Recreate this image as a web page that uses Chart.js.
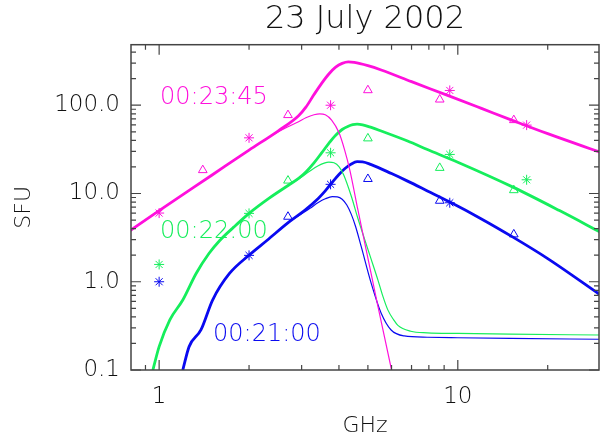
<!DOCTYPE html>
<html>
<head>
<meta charset="utf-8">
<script src="https://cdn.jsdelivr.net/npm/chart.js@4"></script>
<style>
  body { margin: 0; background: #fff; }
</style>
</head>
<body>
<canvas id="spectrumChart" width="605" height="437"></canvas>
<script>
// tick labels
const xTickValues = [1, 10];
const yTickValues = [0.1, 1, 10, 100];

// measured fluxes (asterisks and triangles)
const freqStar = [1.0, 2.0, 3.75, 9.4, 17.0];
const magentaStar = [6.0, 42.7, 100, 147, 59.5];
const greenStar = [1.57, 5.95, 28.9, 27.7, 14.3];
const blueStar = [1.0, 1.99, 12.7, 7.85, null];

const freqTri = [1.4, 2.7, 5.0, 8.7, 15.4];
const magentaTri = [18.4, 77.3, 148, 116, 67.8];
const greenTri = [null, 14.0, 42.1, 19.5, 10.9];
const blueTri = [null, 5.45, 14.6, 8.27, 3.44];

// 00:23:45 fit (thick) and model (thin)
const magentaFitFreq = [0.8, 1.0, 1.5, 2.0, 2.5, 2.93, 3.1, 3.3, 3.5, 3.7, 3.9, 4.1, 4.3, 4.5, 5.0, 5.54, 7.0, 9.2, 12, 15.3, 20, 30];
const magentaFit = [3.8, 6.4, 16.1, 31, 51, 76, 95, 132, 177, 226, 270, 298, 310, 306, 281, 251, 185, 130, 92, 67, 47.6, 29.3];
const magentaModelFreq = [0.8, 1.0, 1.5, 2.0, 2.4, 2.7, 2.93, 3.1, 3.3, 3.45, 3.6, 3.78, 4.0, 4.18, 4.35, 4.63, 5.0, 5.4, 6.0, 6.3];
const magentaModel = [3.8, 6.4, 16.1, 31, 46, 57, 65, 72, 78, 80, 78, 68, 49, 31, 18.4, 6.5, 1.85, 0.53, 0.1, 0.045];

// 00:22:00
const greenFitFreq = [0.953, 1.0, 1.086, 1.2, 1.33, 1.47, 1.59, 1.81, 2.0, 2.33, 2.71, 2.93, 3.1, 3.3, 3.5, 3.7, 3.9, 4.1, 4.3, 4.45, 4.6, 4.8, 5.13, 5.54, 6.79, 7.91, 10, 15.3, 21.9, 30];
const greenFit = [0.1, 0.184, 0.37, 0.62, 1.24, 2.1, 2.9, 4.39, 5.95, 8.8, 12.4, 14.8, 17.5, 22.2, 28.8, 37, 45.7, 53.1, 57.9, 60.2, 61, 60, 56, 51, 39.3, 31.5, 22.6, 11.8, 6.4, 3.65];
const greenModelFreq = [0.953, 1.0, 1.086, 1.2, 1.33, 1.47, 1.59, 1.81, 2.0, 2.33, 2.71, 2.93, 3.2, 3.41, 3.55, 3.7, 3.85, 4.0, 4.15, 4.4, 4.63, 4.88, 5.1, 5.4, 5.6, 5.83, 6.1, 6.3, 6.96, 7.91, 10, 15, 30];
const greenModel = [0.1, 0.184, 0.37, 0.62, 1.24, 2.1, 2.9, 4.39, 5.95, 8.8, 12.4, 14.6, 18.0, 20.6, 21.9, 22.7, 22.3, 20.2, 16.2, 9.3, 5.2, 3.0, 1.9, 1.05, 0.7, 0.48, 0.37, 0.32, 0.275, 0.264, 0.26, 0.255, 0.249];

// 00:21:00
const blueFitFreq = [1.2, 1.26, 1.38, 1.51, 1.72, 2.0, 2.3, 2.71, 3.08, 3.41, 3.6, 3.8, 4.0, 4.2, 4.4, 4.6, 4.8, 5.13, 6.0, 6.79, 7.91, 9.34, 12, 15.3, 20, 30];
const blueFit = [0.1, 0.184, 0.284, 0.62, 1.24, 2.0, 2.95, 4.7, 6.5, 8.8, 10.7, 13.4, 16.4, 19.3, 21.6, 22.9, 22.8, 21.2, 16.8, 13.8, 10.7, 8.1, 5.15, 3.2, 1.83, 0.71];
const blueModelFreq = [1.2, 1.26, 1.38, 1.51, 1.72, 2.0, 2.3, 2.71, 2.93, 3.2, 3.41, 3.6, 3.8, 3.95, 4.1, 4.25, 4.4, 4.55, 4.75, 5.13, 5.54, 5.98, 6.62, 7.91, 10, 15, 30];
const blueModel = [0.1, 0.184, 0.284, 0.62, 1.24, 2.0, 2.95, 4.7, 5.6, 6.8, 7.9, 8.7, 9.2, 9.15, 8.6, 7.4, 5.8, 4.2, 2.5, 0.96, 0.44, 0.284, 0.243, 0.235, 0.232, 0.228, 0.223];

const MAGENTA = '#ff10dc';
const GREEN = '#16ee5c';
const BLUE = '#0a0af0';
const INK = '#111';
const FONT = '"DejaVu Sans", sans-serif';

const pts = (xs, ys) => xs.map((x, i) => ({ x: x, y: ys[i] })).filter(p => p.y !== null);

function curve(xs, ys, color, width) {
    return {
        data: pts(xs, ys),
        borderColor: color,
        borderWidth: width,
        pointRadius: 0,
        cubicInterpolationMode: 'monotone',
        clip: 0
    };
}

function markers(xs, ys, color, style) {
    return {
        data: pts(xs, ys),
        showLine: false,
        pointStyle: style,
        pointRadius: 5,
        borderWidth: 1,
        borderColor: color,
        backgroundColor: 'transparent'
    };
}

// box with inward ticks on all four sides, title over the plot, time labels
const frame = {
    id: 'frame',
    afterDatasetsDraw(chart) {
        const { ctx, chartArea: a, scales: { x, y } } = chart;
        ctx.save();
        ctx.strokeStyle = '#444';
        ctx.lineWidth = 1.5;
        ctx.strokeRect(a.left, a.top, a.width, a.height);
        ctx.lineWidth = 1.2;
        ctx.beginPath();
        for (let d = -1; d <= 2; d++) {
            for (let m = 1; m <= 9; m++) {
                const v = m * Math.pow(10, d);
                if (v < x.min || v > x.max) continue;
                const px = x.getPixelForValue(v);
                const len = m === 1 ? 10 : 5;
                ctx.moveTo(px, a.bottom); ctx.lineTo(px, a.bottom - len);
                ctx.moveTo(px, a.top); ctx.lineTo(px, a.top + len);
            }
        }
        for (let d = -1; d <= 3; d++) {
            for (let m = 1; m <= 9; m++) {
                const v = m * Math.pow(10, d);
                if (v < y.min || v > y.max) continue;
                const py = y.getPixelForValue(v);
                const len = m === 1 ? 10 : 5;
                ctx.moveTo(a.left, py); ctx.lineTo(a.left + len, py);
                ctx.moveTo(a.right, py); ctx.lineTo(a.right - len, py);
            }
        }
        ctx.stroke();

        ctx.textBaseline = 'middle';
        ctx.textAlign = 'center';
        ctx.fillStyle = INK;
        ctx.font = '200 32px ' + FONT;
        ctx.fillText('23 July 2002', (a.left + a.right) / 2, 20);

        ctx.font = '200 24px ' + FONT;
        ctx.textAlign = 'left';
        ctx.fillStyle = MAGENTA;
        ctx.fillText('00:23:45', 160, 98);
        ctx.fillStyle = GREEN;
        ctx.fillText('00:22:00', 160, 232);
        ctx.fillStyle = BLUE;
        ctx.fillText('00:21:00', 213, 335);
        ctx.restore();
    }
};

new Chart(document.getElementById('spectrumChart').getContext('2d'), {
    type: 'line',
    data: {
        datasets: [
            curve(magentaModelFreq, magentaModel, MAGENTA, 1.2),
            curve(greenModelFreq, greenModel, GREEN, 1.2),
            curve(blueModelFreq, blueModel, BLUE, 1.2),
            curve(magentaFitFreq, magentaFit, MAGENTA, 2.8),
            curve(greenFitFreq, greenFit, GREEN, 2.8),
            curve(blueFitFreq, blueFit, BLUE, 2.8),
            markers(freqStar, magentaStar, MAGENTA, 'star'),
            markers(freqStar, greenStar, GREEN, 'star'),
            markers(freqStar, blueStar, BLUE, 'star'),
            markers(freqTri, magentaTri, MAGENTA, 'triangle'),
            markers(freqTri, greenTri, GREEN, 'triangle'),
            markers(freqTri, blueTri, BLUE, 'triangle')
        ]
    },
    options: {
        responsive: false,
        animation: false,
        layout: { padding: { right: 2, left: 0, top: 44.7, bottom: 0 } },
        plugins: {
            legend: { display: false },
            tooltip: { enabled: false },
            title: { display: false }
        },
        scales: {
            x: {
                type: 'logarithmic',
                min: 0.805,
                max: 29.7,
                afterBuildTicks: (s) => { s.ticks = xTickValues.map(v => ({ value: v })); },
                afterFit: (s) => { s.height = 67; },
                grid: { display: false, drawTicks: false },
                border: { display: false },
                ticks: {
                    color: INK,
                    padding: 13,
                    maxRotation: 0,
                    font: { family: FONT, size: 23, weight: '200' },
                    callback: (v) => String(v)
                },
                title: {
                    display: true,
                    text: 'GHz',
                    color: INK,
                    font: { family: FONT, size: 22, weight: '200', lineHeight: 1 },
                    padding: { top: 0, bottom: 0 }
                }
            },
            y: {
                type: 'logarithmic',
                min: 0.1,
                max: 485,
                afterBuildTicks: (s) => { s.ticks = yTickValues.map(v => ({ value: v })); },
                afterFit: (s) => { s.width = 131; },
                grid: { display: false, drawTicks: false },
                border: { display: false },
                ticks: {
                    color: INK,
                    padding: 11,
                    font: { family: FONT, size: 23, weight: '200' },
                    callback: (v) => Number(v).toFixed(1)
                },
                title: {
                    display: true,
                    text: 'SFU',
                    color: INK,
                    font: { family: FONT, size: 22, weight: '200', lineHeight: 1 },
                    padding: { top: 13, bottom: 0 }
                }
            }
        }
    },
    plugins: [frame]
});
</script>
</body>
</html>
